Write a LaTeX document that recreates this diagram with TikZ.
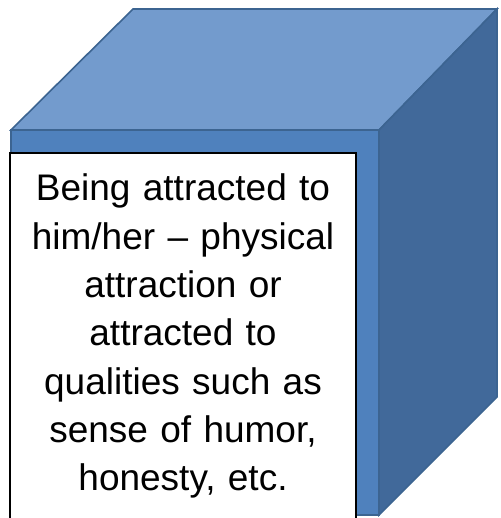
\documentclass[tikz,border=0pt]{standalone}
\usepackage{fontspec}
\setmainfont{Liberation Sans}
\usepackage{tikz}
\usetikzlibrary{positioning}
\usepackage{xcolor}
\definecolor{cubetop}{HTML}{739BCD}
\definecolor{cubefront}{HTML}{4F81BD}
\definecolor{cubeside}{HTML}{41699A}
\definecolor{cubeline}{HTML}{3C6491}

\begin{document}
\begin{tikzpicture}[x=1pt, y=-1pt,
    face/.style={draw=cubeline, line width=1.6pt, line join=miter}]
  \clip (0,0) rectangle (500,518);
  % cube faces
  \draw[face, fill=cubetop] (11,130) -- (133,9) -- (497,9) -- (379,130) -- cycle;
  \draw[face, fill=cubeside] (379,130) -- (497,9) -- (497,397) -- (379,515) -- cycle;
  \draw[face, fill=cubefront] (11,130) rectangle (379,515);
  % white label box
  \draw[black, line width=2pt, fill=white] (10,153) rectangle (356,530);
  \node[anchor=base, text width=340pt, align=center, inner sep=0pt,
        font=\fontsize{37}{48.3}\selectfont] (label) at (183,201)
    {Being attracted to\\ him/her -- physical\\ attraction or\\ attracted to\\
     qualities such as\\ sense of humor,\\ honesty, etc.};
\end{tikzpicture}
\end{document}
